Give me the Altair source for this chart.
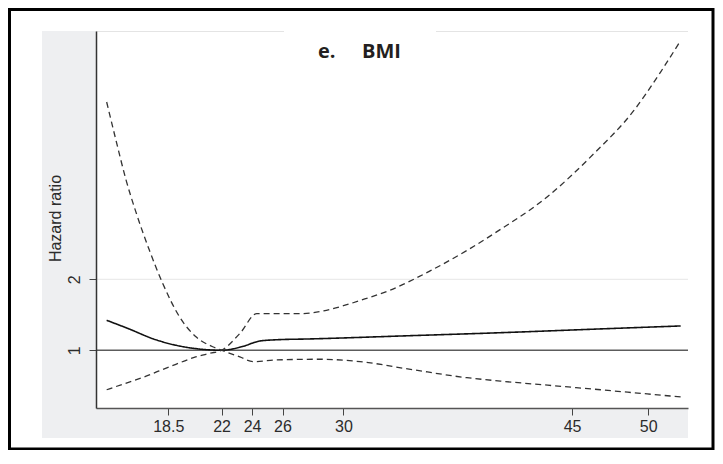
import altair as alt
import pandas as pd

# ---- data ----
# point estimate (solid line)
hr_bmi = [14.46, 15.95, 17.48, 19.01, 20.32, 22.0, 23.43, 24.52, 25.6, 27.8, 34.37, 40.3, 46.9, 52.13]
hazard_ratio = [1.34, 1.23, 1.12, 1.05, 1.016, 1.0, 1.04, 1.095, 1.108, 1.117, 1.153, 1.187, 1.232, 1.268]

# confidence-band line that is the upper bound below BMI 22 and the lower bound above it
ci_a_bmi = [14.46, 15.07, 15.73, 16.39, 17.26, 18.14, 19.23, 20.32, 21.42, 22.0, 23.2, 24.08,
            25.62, 28.46, 31.09, 34.4, 38.1, 40.3, 43.4, 46.87, 49.1, 52.13]
ci_a = [11.3, 7.78, 5.28, 3.84, 2.66, 1.92, 1.39, 1.14, 1.035, 1.0, 0.937, 0.895,
        0.91, 0.916, 0.895, 0.83, 0.765, 0.74, 0.711, 0.68, 0.66, 0.634]

# confidence-band line that is the lower bound below BMI 22 and the upper bound above it
ci_b_bmi = [14.46, 15.5, 16.6, 17.05, 17.9, 19.0, 20.3, 21.24, 22.0, 23.21, 24.31, 25.62, 27.15,
            28.7, 30.0, 31.08, 33.07, 35.68, 38.1, 39.96, 43.36, 46.43, 49.06, 50.8, 52.13]
ci_b = [0.68, 0.717, 0.758, 0.776, 0.817, 0.872, 0.937, 0.971, 1.0, 1.18, 1.43, 1.43, 1.43,
        1.47, 1.545, 1.625, 1.80, 2.17, 2.65, 3.15, 4.47, 6.82, 10.4, 15.1, 20.6]

x_ticks = [18.5, 22, 24, 26, 30, 45, 50]
y_ticks = [1, 2]
x_domain = [13.76, 52.61]
y_domain = [0.569, 22.6]

rows = []
for name, style, xs, vals in [("hr", "estimate", hr_bmi, hazard_ratio),
                              ("ci_a", "ci", ci_a_bmi, ci_a),
                              ("ci_b", "ci", ci_b_bmi, ci_b)]:
    for b, v in zip(xs, vals):
        rows.append({"bmi": b, "value": v, "series": name, "style": style})
df = pd.DataFrame(rows)

W, H = 592, 377
FONT = "Liberation Sans"

xscale = alt.Scale(domain=x_domain, nice=False, zero=False)
yscale = alt.Scale(type="log", domain=y_domain, nice=False)

xaxis = alt.Axis(values=x_ticks, format=".3~g", tickSize=7, tickColor="#444444", tickWidth=1,
                 domainColor="#555555", domainWidth=1.5, labelFont=FONT, labelFontSize=16,
                 labelColor="#2b2b2b", labelPadding=3, labelFlush=False, labelOverlap=False,
                 grid=False, zindex=1, title=None)
yaxis = alt.Axis(values=y_ticks, format="d", tickSize=7, tickColor="#444444", tickWidth=1,
                 domainColor="#333333", domainWidth=1.5, labelFont=FONT, labelFontSize=16,
                 labelColor="#2b2b2b", labelAngle=270, labelAlign="center",
                 labelBaseline="alphabetic", labelPadding=10, grid=False, zindex=1,
                 title="Hazard ratio", titleFont=FONT, titleFontSize=16, titleFontWeight="normal",
                 titleColor="#2b2b2b", titleAngle=270, titleX=-36, titleY=187,
                 titleAlign="center", titleBaseline="alphabetic")

one = pd.DataFrame({"k": [0]})
base = alt.Chart(one)

gray_region = base.mark_rect(fill="#eeeff1").encode(
    x=alt.value(-54), x2=alt.value(W), y=alt.value(0), y2=alt.value(407))
plot_region = base.mark_rect(fill="white").encode(
    x=alt.value(0), x2=alt.value(W), y=alt.value(0), y2=alt.value(H))
top_line = base.mark_rule(color="#e4e4e4", strokeWidth=1).encode(
    x=alt.value(0), x2=alt.value(W), y=alt.value(0.5))
title_box = base.mark_rect(fill="white").encode(
    x=alt.value(188), x2=alt.value(340), y=alt.value(-3), y2=alt.value(3))

grid2 = base.mark_rule(color="#e6e6e6", strokeWidth=1).encode(
    y=alt.Y(datum=2, scale=yscale, axis=yaxis))
ref1 = base.mark_rule(color="#5c5c5c", strokeWidth=1.5).encode(
    y=alt.Y(datum=1, scale=yscale, axis=yaxis))

lines = alt.Chart(df).mark_line(interpolate="monotone").encode(
    x=alt.X("bmi:Q", scale=xscale, axis=xaxis),
    y=alt.Y("value:Q", scale=yscale, axis=yaxis),
    detail="series:N",
    color=alt.Color("style:N", scale=alt.Scale(domain=["estimate", "ci"],
                                               range=["#111111", "#333333"]), legend=None),
    strokeDash=alt.StrokeDash("style:N", scale=alt.Scale(domain=["estimate", "ci"],
                                                         range=[[1, 0], [6, 4]]), legend=None),
    strokeWidth=alt.StrokeWidth("style:N", scale=alt.Scale(domain=["estimate", "ci"],
                                                           range=[1.6, 1.3]), legend=None),
)

title_e = base.mark_text(text="e.", font="Open Sans", fontWeight="bold", fontSize=20,
                         align="left", baseline="alphabetic", color="#231f20").encode(
    x=alt.value(222), y=alt.value(27))
title_bmi = base.mark_text(text="BMI", font="Open Sans", fontWeight="bold", fontSize=20,
                           align="left", baseline="alphabetic", color="#231f20").encode(
    x=alt.value(266), y=alt.value(27))

border = base.mark_rect(fillOpacity=0, stroke="black", strokeWidth=3).encode(
    x=alt.value(-86.5), x2=alt.value(617), y=alt.value(-21.5), y2=alt.value(418))

chart = alt.layer(
    gray_region, plot_region, top_line, title_box, grid2, ref1, lines,
    title_e, title_bmi, border
).properties(
    width=W, height=H,
    autosize=alt.AutoSizeParams(type="none"),
    padding={"left": 88, "top": 23, "right": 27, "bottom": 42},
    background="white",
).configure_view(stroke=None)

chart.save("out.html", embed_options={"renderer": "svg", "actions": False})
